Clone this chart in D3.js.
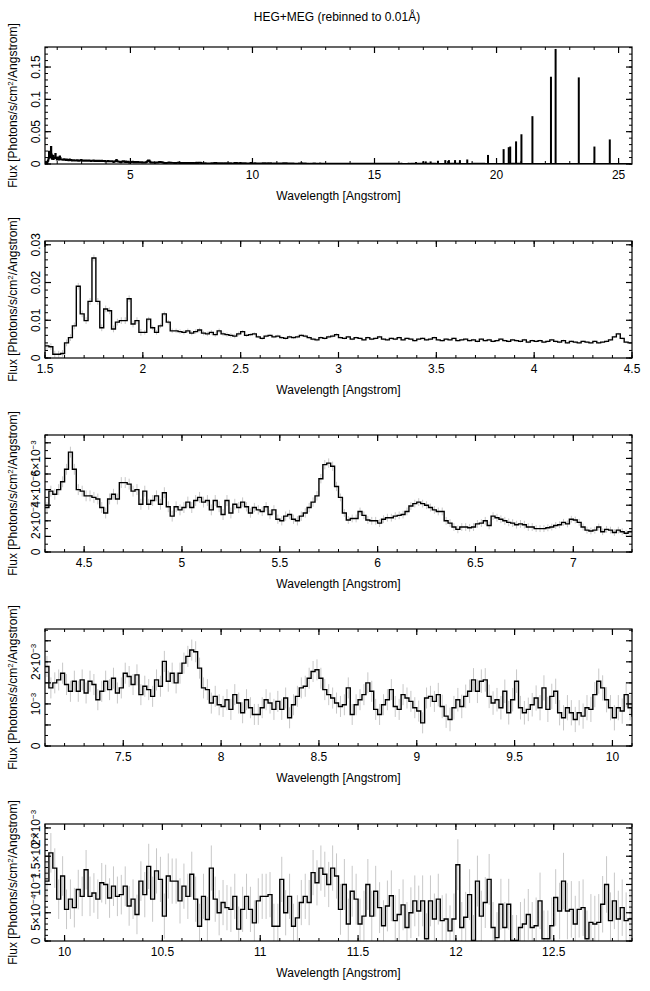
<!DOCTYPE html>
<html><head><meta charset="utf-8">
<script src="https://cdn.jsdelivr.net/npm/d3@7"></script>
<style>body{margin:0;background:#fff}text{font-family:"Liberation Sans",Arial,sans-serif;fill:#000}</style>
</head><body><svg id="c" width="650" height="991"></svg>
<script>
const STEP = 0.02;
// Panel 2 flux (photons/s/cm2/A), bins from 1.50 A
const p2Start = 1.50;
const p2Flux = [.0032,.0030,.0010,.0010,.0012,.0040,.0054,.0085,.0190,.0117,.0099,.0150,.0265,.0150,.0080,.0130,.0125,.0077,.0095,.0099,
.0099,.0157,.0090,.0099,.0068,.0068,.0103,.0080,.0068,.0085,.0117,.0095,.0072,.0072,.0070,.0068,.0072,.0066,.0070,.0074,
.0066,.0064,.0068,.0062,.0072,.0064,.0062,.0060,.0058,.0064,.0070,.0060,.0062,.0064,.0056,.0052,.0058,.0060,.0056,.0058,
.0054,.0052,.0056,.0054,.0056,.0060,.0058,.0054,.0050,.0048,.0054,.0052,.0056,.0058,.0062,.0054,.0052,.0056,.0050,.0054,
.0052,.0048,.0054,.0050,.0052,.0056,.0050,.0048,.0052,.0050,.0054,.0048,.0052,.0050,.0046,.0050,.0052,.0048,.0050,.0054,
.0048,.0046,.0050,.0048,.0052,.0046,.0048,.0050,.0046,.0048,.0044,.0050,.0046,.0048,.0044,.0046,.0050,.0046,.0044,.0048,
.0046,.0044,.0048,.0042,.0046,.0044,.0046,.0042,.0044,.0048,.0044,.0042,.0046,.0040,.0044,.0042,.0040,.0044,.0042,.0040,
.0044,.0040,.0042,.0044,.0048,.0056,.0064,.0052,.0042,.0040];
const p2Err = [.0009,.0006,.0004,.0003,.0003,.0003];
// Panel 3 flux in 1e-3 units, bins from 4.30 A
const p3Start = 4.30;
const p3Flux = [2.85,3.9,3.7,4.0,4.5,5.3,6.4,5.3,4.0,3.9,3.6,3.6,3.5,3.4,2.85,2.5,3.4,3.7,3.4,4.45,
4.45,4.35,3.9,4.0,3.06,3.9,3.06,3.3,3.6,3.06,3.8,2.9,2.3,2.9,2.7,2.85,3.2,2.85,3.3,3.5,
3.2,3.3,2.7,3.3,2.9,2.4,3.3,2.5,3.06,2.85,3.2,2.9,2.5,2.85,2.7,2.6,2.9,2.4,2.7,2.1,
2.0,2.3,2.4,2.1,2.0,2.3,2.5,2.85,3.2,3.6,4.7,5.6,5.7,5.5,4.2,3.5,2.5,2.05,
2.15,2.15,2.6,2.35,2.05,2.0,2.0,1.85,2.1,2.2,2.2,2.3,2.35,2.4,2.6,2.95,3.1,3.2,3.1,3.0,
2.85,2.7,2.6,2.6,2.0,1.85,1.6,1.45,1.6,1.6,1.55,1.6,1.8,1.85,2.0,1.7,2.3,2.2,2.1,2.0,
1.9,1.85,1.75,1.8,1.75,1.6,1.6,1.5,1.5,1.5,1.55,1.6,1.7,1.75,1.9,1.8,2.1,2.05,1.9,1.6,
1.4,1.35,1.4,1.6,1.3,1.45,1.4,1.25,1.4,1.3,1.2,1.3];
const p3Err = [0.35,0.35,0.3,0.25,0.25,0.22];
// Panel 4 flux in 1e-3 units, bins from 7.10 A
const p4Start = 7.10;
const p4Flux = [1.89,1.38,1.50,1.57,1.73,1.46,1.30,1.54,1.30,1.57,1.26,1.54,1.46,1.10,1.30,1.54,1.34,1.61,1.26,1.38,
1.73,1.65,1.46,1.69,1.22,1.42,1.34,1.18,1.57,1.42,2.01,1.54,1.73,1.50,1.73,1.97,2.13,2.28,2.24,1.85,
1.38,1.34,1.02,1.18,0.98,0.94,1.10,0.87,1.22,1.02,0.79,1.10,0.91,0.75,0.75,0.91,1.10,1.02,0.87,1.06,
0.87,1.14,0.67,0.98,1.18,1.38,1.42,1.61,1.77,1.81,1.61,1.34,1.22,1.14,1.02,0.94,0.98,1.38,0.75,0.98,
1.10,1.22,1.50,1.30,0.87,0.75,0.98,1.10,1.34,0.94,0.87,1.22,1.14,1.06,0.91,0.83,0.55,1.14,1.18,1.06,
1.22,0.94,0.71,0.63,0.91,1.10,0.94,1.18,1.30,1.57,1.30,1.54,1.57,1.18,1.02,1.10,0.91,1.30,0.79,1.10,
1.54,0.91,0.79,0.87,0.98,1.14,0.91,1.38,0.87,1.18,1.30,0.79,0.67,0.91,0.79,0.63,0.79,0.71,0.91,0.87,
1.22,1.54,1.38,1.10,0.91,0.67,0.91,0.83,1.22,0.91,0.71];
const p4Err = [0.25,0.25,0.25,0.25,0.28,0.3];
// Panel 5 flux in 1e-3 units, bins from 9.90 A
const p5Start = 9.90;
const p5Flux = [1.06,1.56,1.29,0.74,1.15,0.56,0.74,0.59,0.91,0.79,1.26,0.79,0.85,0.74,1.03,1.00,0.76,0.97,0.79,0.82,
0.97,0.62,0.74,0.47,1.06,0.82,1.32,0.74,1.24,1.09,0.44,1.15,1.06,1.06,0.71,0.97,0.79,1.18,0.74,0.26,
0.79,0.38,1.29,0.74,0.50,0.68,0.59,0.56,0.79,0.21,0.56,0.79,0.56,0.32,0.71,0.79,0.79,0.82,0.26,0.26,
1.09,0.50,0.79,0.26,0.41,0.68,0.79,0.68,1.21,1.03,1.29,1.18,
1.00,1.29,1.15,0.56,1.00,0.30,0.88,0.74,0.30,0.44,1.00,0.44,0.88,0.59,0.27,0.62,0.80,0.36,0.47,0.64,
0.24,0.50,0.71,0.53,0.71,0.04,0.71,0.39,0.74,0.36,0.39,0.18,0.39,1.35,0.24,0.42,0.82,0.01,1.06,0.44,
0.68,1.09,0.24,0.06,0.65,0.24,0.65,0.01,0.01,0.24,0.30,0.47,0.24,0.27,0.71,0.04,0.04,0.27,0.77,0.53,
1.06,0.53,0.56,0.30,0.56,0.59,0.04,0.33,0.30,0.33,0.65,1.00,0.36,0.71,0.39,0.59,0.36,0.39];
const p5Err = [0.35,0.4,0.4,0.45,0.45,0.5];
// Panel 1: long-wavelength continuum (0.5 A bins from 13.0) and emission lines
const tailStart = 13.0, tailStep = 0.5;
const tailFlux = [.0005,.0005,.0004,.0004,.0004,.0004,.0003,.0004,.0004,.0003,.0004,.0003,.0004,.0003,.0003,.0004,.0003,.0003,.0003,.0003,.0003,.0002,.0003,.0002,.0003];
const lineWave = [16.1,16.4,16.7,17.0,17.1,17.3,17.6,17.9,18.05,18.3,18.5,18.8,19.65,20.29,20.5,20.56,20.8,21.02,21.47,22.23,22.42,23.37,24.01,24.64];
const lineFlux = [.002,.002,.003,.004,.004,.004,.005,.006,.006,.006,.006,.007,.014,.023,.026,.027,.035,.046,.074,.135,.178,.134,.027,.038];

const svg = d3.select("#c");
const L = 45, R = 632, H = 117;
svg.append("text").attr("x",337).attr("y",21).attr("text-anchor","middle").attr("font-size",12).text("HEG+MEG (rebinned to 0.01\u00C5)");

function sup(sel, parts){
  parts.forEach(p=>{const t=sel.append("tspan").text(p[0]); if(p[1]){t.attr("baseline-shift","super").attr("font-size",8);} });
}

function panel(cfg){
  const top = cfg.top, bot = top+H;
  const x = d3.scaleLinear().domain(cfg.xd).range([L,R]);
  const y = d3.scaleLinear().domain(cfg.yd).range([bot,top]);
  const g = svg.append("g");
  const cp = "cp"+top;
  g.append("clipPath").attr("id",cp).append("rect").attr("x",L).attr("y",top).attr("width",R-L).attr("height",H);
  const dg = g.append("g").attr("clip-path",`url(#${cp})`);
  if(cfg.err){
    dg.selectAll("line.e").data(cfg.bins).enter().append("line")
      .attr("x1",d=>x(d.x+STEP/2)).attr("x2",d=>x(d.x+STEP/2))
      .attr("y1",d=>y(Math.max(0,d.v-d.e))).attr("y2",d=>y(d.v+d.e))
      .attr("stroke","#c8c8c8").attr("stroke-width",1);
  }
  const pts=[];
  cfg.bins.forEach(d=>{pts.push([d.x,d.v]);pts.push([d.x+d.w,d.v]);});
  dg.append("path").attr("d",d3.line().x(d=>x(d[0])).y(d=>y(d[1]))(pts))
    .attr("fill","none").attr("stroke","#000").attr("stroke-width",cfg.sw||1.4);
  if(cfg.lines){
    dg.selectAll("line.l").data(cfg.lines).enter().append("line")
      .attr("x1",d=>x(d[0])).attr("x2",d=>x(d[0])).attr("y1",y(0)).attr("y2",d=>y(d[1]))
      .attr("stroke","#000").attr("stroke-width",2);
  }
  g.append("rect").attr("x",L).attr("y",top).attr("width",R-L).attr("height",H).attr("fill","none").attr("stroke","#000").attr("stroke-width",1.2);
  const xMaj = d3.range(cfg.xMaj[0],cfg.xMaj[1]+1e-9,cfg.xMaj[2]);
  const xMin = d3.range(Math.ceil(cfg.xd[0]/cfg.xMinor-1e-9)*cfg.xMinor,cfg.xd[1]+1e-9,cfg.xMinor);
  xMin.forEach(v=>{[[bot,-3],[top,3]].forEach(([yy,dd])=>g.append("line").attr("x1",x(v)).attr("x2",x(v)).attr("y1",yy).attr("y2",yy+dd).attr("stroke","#000"));});
  xMaj.forEach(v=>{[[bot,-6],[top,6]].forEach(([yy,dd])=>g.append("line").attr("x1",x(v)).attr("x2",x(v)).attr("y1",yy).attr("y2",yy+dd).attr("stroke","#000").attr("stroke-width",1.2));
    g.append("text").attr("x",x(v)).attr("y",bot+15).attr("text-anchor","middle").attr("font-size",12).text(cfg.xfmt(v));});
  g.append("text").attr("x",(L+R)/2).attr("y",bot+36).attr("text-anchor","middle").attr("font-size",12).text("Wavelength [Angstrom]");
  const yMin = d3.range(cfg.yd[0],cfg.yd[1]+1e-12,cfg.yMinor);
  yMin.forEach(v=>{[[L,3],[R,-3]].forEach(([xx,dd])=>g.append("line").attr("x1",xx).attr("x2",xx+dd).attr("y1",y(v)).attr("y2",y(v)).attr("stroke","#000"));});
  cfg.yMaj.forEach(v=>{[[L,6],[R,-6]].forEach(([xx,dd])=>g.append("line").attr("x1",xx).attr("x2",xx+dd).attr("y1",y(v)).attr("y2",y(v)).attr("stroke","#000").attr("stroke-width",1.2));});
  cfg.yLab.forEach(([v,parts])=>{
    const t=g.append("text").attr("transform",`translate(${L-5},${y(v)}) rotate(-90)`).attr("text-anchor","middle").attr("font-size",12);
    sup(t,parts);
  });
  const yt=g.append("text").attr("transform",`translate(17,${(top+bot)/2}) rotate(-90)`).attr("text-anchor","middle").attr("font-size",12);
  sup(yt,[["Flux [Photons/s/cm",0],["2",1],["/Angstrom]",0]]);
}

function mk(start, flux, err, scale, xEnd){
  return flux.map((v,i)=>{const xx=start+i*STEP; return {x:xx,w:STEP,v:v*scale,e:err?err[Math.min(err.length-1,Math.floor((xx-start)/0.5))]*scale:0};})
    .filter(d=>xEnd===undefined||d.x<xEnd-1e-9);
}
const p1bins = [].concat(mk(p2Start,p2Flux,null,1,p3Start), mk(p3Start,p3Flux,null,1e-3,p4Start),
  mk(p4Start,p4Flux,null,1e-3,p5Start), mk(p5Start,p5Flux,null,1e-3),
  tailFlux.map((v,i)=>({x:tailStart+i*tailStep-(i===0?0.1:0),w:tailStep+(i===0?0.1:0),v:v})));
const fmt = d=>d3.format("~g")(+d.toFixed(2));
panel({top:47,xd:[1.5,25.55],yd:[0,0.181],bins:p1bins,lines:lineWave.map((w,i)=>[w,lineFlux[i]]),sw:1.8,
  xMaj:[5,25,5],xMinor:1,xfmt:fmt,yMaj:[0,0.05,0.1,0.15],yMinor:0.01,
  yLab:[[0,[["0",0]]],[0.05,[["0.05",0]]],[0.1,[["0.1",0]]],[0.15,[["0.15",0]]]]});
panel({top:241,xd:[1.5,4.5],yd:[0,0.031],bins:mk(p2Start,p2Flux,p2Err,1),err:true,
  xMaj:[1.5,4.5,0.5],xMinor:0.1,xfmt:fmt,yMaj:[0,0.01,0.02,0.03],yMinor:0.002,
  yLab:[[0,[["0",0]]],[0.01,[["0.01",0]]],[0.02,[["0.02",0]]],[0.03,[["0.03",0]]]]});
const ex3=[["\u00D710",0],["\u22123",1]];
panel({top:435,xd:[4.3,7.3],yd:[0,7.5e-3],bins:mk(p3Start,p3Flux,p3Err,1e-3),err:true,
  xMaj:[4.5,7,0.5],xMinor:0.1,xfmt:fmt,yMaj:[0,1e-3,2e-3,3e-3,4e-3,5e-3,6e-3,7e-3],yMinor:5e-4,
  yLab:[[0,[["0",0]]],[2e-3,[["2",0]].concat(ex3)],[4e-3,[["4",0]].concat(ex3)],[6e-3,[["6",0]].concat(ex3)]]});
panel({top:629,xd:[7.1,10.1],yd:[0,2.78e-3],bins:mk(p4Start,p4Flux,p4Err,1e-3),err:true,
  xMaj:[7.5,10,0.5],xMinor:0.1,xfmt:fmt,yMaj:[0,5e-4,1e-3,1.5e-3,2e-3,2.5e-3],yMinor:2.5e-4,
  yLab:[[0,[["0",0]]],[1e-3,[["10",0],["\u22123",1]]],[2e-3,[["2",0]].concat(ex3)]]});
panel({top:824,xd:[9.9,12.9],yd:[0,2.07e-3],bins:mk(p5Start,p5Flux,p5Err,1e-3),err:true,
  xMaj:[10,12.5,0.5],xMinor:0.1,xfmt:fmt,yMaj:[0,5e-4,1e-3,1.5e-3,2e-3],yMinor:1e-4,
  yLab:[[0,[["0",0]]],[5e-4,[["5\u00D710",0],["\u22124",1]]],[1e-3,[["10",0],["\u22123",1]]],[1.5e-3,[["1.5",0]].concat(ex3)],[2e-3,[["2",0]].concat(ex3)]]});
</script></body></html>
